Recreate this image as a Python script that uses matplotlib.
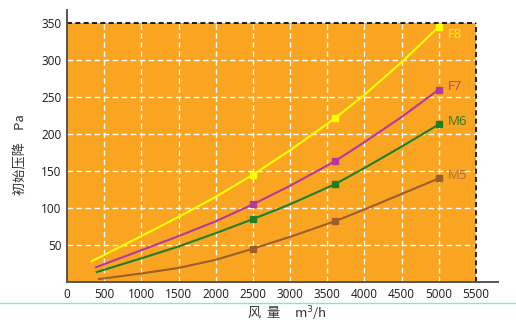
import matplotlib
matplotlib.use("Agg")
import matplotlib.pyplot as plt
from matplotlib.patches import Rectangle
from matplotlib.lines import Line2D

plt.rcParams['font.family'] = ['Open Sans', 'Noto Sans CJK SC', 'DejaVu Sans']

# Air flow (m3/h) sample positions along each curve
airflow_f8 = [330, 1000, 1500, 2000, 2500, 3000, 3600, 4000, 4500, 5000]
airflow_f7 = [390, 1000, 1500, 2000, 2500, 3000, 3600, 4000, 4500, 5000]
airflow_m6 = [400, 1000, 1500, 2000, 2500, 3000, 3600, 4000, 4500, 5000]
airflow_m5 = [430, 1000, 1500, 2000, 2500, 3000, 3600, 4000, 4500, 5000]

# Initial pressure drop (Pa)
drop_f8 = [28, 62, 88, 115, 145, 178, 221, 253, 297, 345]
drop_f7 = [20, 43, 62, 82, 105, 130, 163, 189, 223, 260]
drop_m6 = [13.5, 32, 48, 66, 85, 105, 132, 154, 183, 213]
drop_m5 = [4, 11.5, 19, 30, 45, 61, 82, 98, 119, 140]

# Measured points shown with markers
marker_idx = [4, 6, 9]

series_names = ["F8", "F7", "M6", "M5"]
line_colors = ["#FFFF00", "#B4399F", "#1F7F24", "#9C5F2C"]
label_colors = ["#FFF200", "#B83CA2", "#2E7D1F", "#A8703E"]

x_ticks = list(range(0, 5501, 500))
y_ticks = list(range(50, 351, 50))

fig = plt.figure(figsize=(5.16, 3.27), dpi=100)
ax = fig.add_axes([67 / 516, 1 - 282 / 327, 431 / 516, 272 / 327])
ax.set_xlim(0, 5500 * 431 / 409)
ax.set_ylim(0, 350 * 272 / 259)
ax.patch.set_visible(False)

# Orange plotting field with dashed white grid
ax.add_patch(Rectangle((0, 0), 5500, 350, facecolor="#F9A521", edgecolor="none", zorder=0))
ax.vlines(x_ticks[1:], 0, 350, colors="white", linestyles=(0, (4, 2.5)), linewidth=1.0, zorder=1)
ax.hlines(y_ticks[:-1], 0, 5500, colors="white", linestyles=(0, (4, 2.5)), linewidth=1.0, zorder=1)
ax.hlines([350], 0, 5500, colors="black", linestyles=(0, (3, 2)), linewidth=1.2, zorder=2)
ax.vlines([5500], 0, 350, colors="black", linestyles=(0, (3, 2)), linewidth=1.2, zorder=2)

all_x = [airflow_f8, airflow_f7, airflow_m6, airflow_m5]
all_y = [drop_f8, drop_f7, drop_m6, drop_m5]
for name, xs, ys, lc, tc in zip(series_names, all_x, all_y, line_colors, label_colors):
    ax.plot(xs, ys, color=lc, linewidth=1.5, zorder=3)
    mx = [xs[i] for i in marker_idx]
    my = [ys[i] for i in marker_idx]
    ax.plot(mx, my, linestyle="none", marker="s", markersize=5.0, color=lc, zorder=4)
    dy = -8 if name == "F8" else 3
    ax.annotate(name, (mx[-1], my[-1]), xytext=(9, dy), textcoords="offset pixels",
                color=tc, fontsize=9.5, va="center", ha="left", zorder=5)

ax.set_xticks(x_ticks)
ax.set_xticklabels([str(v) for v in x_ticks])
ax.set_yticks(y_ticks)
ax.set_yticklabels([str(v) for v in y_ticks])
ax.tick_params(length=0, labelsize=8.5, colors="#1a1a1a", pad=4)

for side in ["top", "right"]:
    ax.spines[side].set_visible(False)
ax.spines["left"].set_color("#555555")
ax.spines["bottom"].set_color("#555555")
ax.spines["left"].set_linewidth(1.4)
ax.spines["bottom"].set_linewidth(1.4)

fig.text(21 / 516, 1 - 155 / 327, "初始压降    Pa", rotation=90, ha="center", va="center",
         fontsize=9.5, color="#333333", family=['Noto Sans CJK SC', 'DejaVu Sans'])
fig.text(287 / 516, 1 - 314 / 327, "风  量     m$^3$/h", ha="center", va="center",
         fontsize=9.5, color="#333333", family=['Noto Sans CJK SC', 'DejaVu Sans'])

fig.add_artist(Line2D([0, 1], [1 - 303 / 327] * 2, transform=fig.transFigure,
                      color="#7FE3F2", linewidth=1.0))

fig.savefig("out.png", dpi=100)
